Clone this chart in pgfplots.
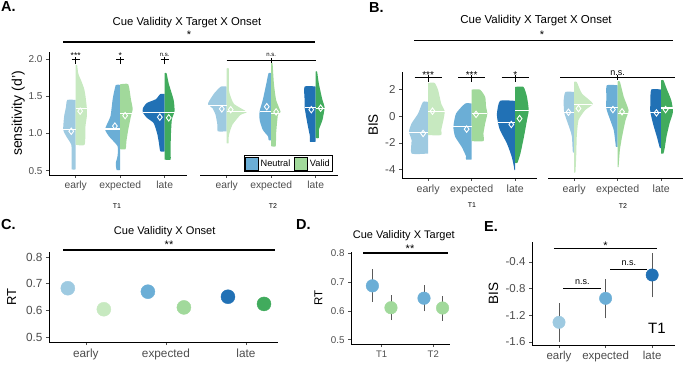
\documentclass[border=0pt]{standalone}
\usepackage{fontspec}
\setmainfont{Liberation Sans}
\usepackage{pgfplots}
\pgfplotsset{compat=1.18}
\newcommand{\myfs}[1]{\fontsize{#1}{#1}\selectfont}
\definecolor{c1n}{HTML}{9ECAE1}
\definecolor{c1v}{HTML}{C7E9C0}
\definecolor{c2n}{HTML}{6BAED6}
\definecolor{c2v}{HTML}{A1D99B}
\definecolor{c3n}{HTML}{2171B5}
\definecolor{c3v}{HTML}{41AB5D}
\definecolor{tg}{HTML}{4D4D4D}
\definecolor{eb}{HTML}{595959}
\pgfplotsset{
  gg/.style={scale only axis, clip=false, anchor=south west,
    axis x line*=bottom, axis y line*=left,
    axis line style={-, line width=0.75pt, black},
    tick align=outside, major tick length=3pt,
    every tick/.style={tg, line width=0.6pt},
    tick label style={text=tg}},
}
% half violin: colour, "cat-" or "cat+", rows "v w\\"
\newcommand{\hv}[3]{\addplot[fill=#1, draw=none, smooth, tension=0.35] table[x expr={#2\thisrow{w}}, y=v, row sep=\\]{v w\\#3} -- cycle;}
\newcommand{\md}[3]{\addplot[white, line width=1.1pt] coordinates {(#1,#3)(#2,#3)};}
\newcommand{\dm}[1]{\addplot[only marks, mark=diamond, mark size=3.2pt, white, mark options={line width=0.9pt}] coordinates {#1};}
\newcommand{\seg}[4]{\addplot[black, line width=0.6pt] coordinates {(#1,#2)(#3,#4)};}
\begin{document}
\begin{tikzpicture}
\useasboundingbox (0pt,0pt) rectangle (685pt,-366pt);
% ---------------- A, T1
\begin{axis}[gg, at={(49pt,-175pt)}, width=138pt, height=123pt,
  xmin=0.4, xmax=3.5, ymin=0.443, ymax=2.094,
  xtick={1,2,3}, xticklabels={early,expected,late},
  ytick={0.5,1,1.5,2}, yticklabels={0.5,1.0,1.5,2.0},
  x tick label style={font=\myfs{10.3}}, y tick label style={font=\myfs{10}},
  ylabel={sensitivity (d')}, ylabel style={font=\myfs{14}, at={(axis description cs:-0.222,0.5)}, anchor=center}]
\hv{c1n}{1-}{1.45 0\\1.45 0.19\\1.35 0.22\\1.23 0.26\\1.05 0.28\\0.95 0.2\\0.85 0.1\\0.7 0.09\\0.52 0.09\\0.52 0\\}
\hv{c1v}{1+}{1.92 0\\1.92 0.03\\1.8 0.06\\1.7 0.13\\1.6 0.19\\1.5 0.22\\1.34 0.25\\1.23 0.25\\1.1 0.22\\0.85 0.2\\0.85 0\\}
\hv{c2n}{2-}{1.65 0\\1.65 0.1\\1.46 0.17\\1.23 0.22\\1.06 0.34\\0.96 0.25\\0.83 0.06\\0.7 0.06\\0.6 0.1\\0.51 0.08\\0.51 0\\}
\hv{c2v}{2+}{1.66 0\\1.66 0.18\\1.46 0.24\\1.33 0.28\\1.23 0.24\\1.05 0.18\\0.9 0.14\\0.79 0.12\\0.79 0\\}
\hv{c3n}{3-}{1.53 0\\1.53 0.1\\1.46 0.2\\1.41 0.4\\1.34 0.49\\1.28 0.49\\1.21 0.4\\1.14 0.25\\1.0 0.17\\0.87 0.13\\0.76 0.1\\0.76 0\\}
\hv{c3v}{3+}{1.81 0\\1.81 0.04\\1.67 0.09\\1.45 0.2\\1.30 0.22\\1.19 0.16\\1.0 0.14\\0.78 0.13\\0.65 0.13\\0.65 0\\}
\md{0.72}{1}{1.05}\md{1}{1.25}{1.34}
\md{1.66}{2}{1.06}\md{2}{2.26}{1.27}
\md{2.51}{3}{1.28}\md{3}{3.22}{1.28}
\dm{(0.9,1.03)(1.1,1.30)(1.88,1.10)(2.11,1.24)(2.89,1.22)(3.09,1.21)}
\seg{0.906}{1.99}{1.094}{1.99}\seg{1}{1.93}{1}{2.03}
\seg{1.906}{1.99}{2.094}{1.99}\seg{2}{1.93}{2}{2.03}
\seg{2.906}{1.99}{3.094}{1.99}\seg{3}{1.93}{3}{2.03}
\node[font=\myfs{8.5}] at (axis cs:1,2.045) {***};
\node[font=\myfs{8.5}] at (axis cs:2,2.045) {*};
\node[font=\myfs{6}] at (axis cs:3,2.054) {n.s.};
\end{axis}
% ---------------- A, T2
\begin{axis}[gg, at={(200pt,-175pt)}, width=138pt, height=123pt,
  xmin=0.4, xmax=3.5, ymin=0.443, ymax=2.094, axis y line=none,
  xtick={1,2,3}, xticklabels={early,expected,late},
  x tick label style={font=\myfs{10.3}},
  legend columns=2,
  legend style={at={(0.964,0.027)}, anchor=south east, draw=black, line width=0.6pt,
    font=\myfs{9.2}, inner sep=1pt, /tikz/every even column/.append style={column sep=2pt}},
  legend image code/.code={\fill[#1] (0pt,-6.5pt) rectangle (13pt,6.5pt);}]
\addlegendimage{fill=c2n}\addlegendentry{Neutral}
\addlegendimage{fill=c2v}\addlegendentry{Valid}
\hv{c1n}{1-}{1.63 0\\1.63 0.13\\1.54 0.28\\1.43 0.4\\1.39 0.42\\1.34 0.32\\1.25 0.25\\1.12 0.21\\1.03 0.2\\1.03 0\\}
\hv{c1v}{1+}{1.87 0\\1.87 0.05\\1.58 0.05\\1.4 0.16\\1.29 0.45\\1.25 0.31\\1.12 0.13\\0.98 0.05\\0.87 0.04\\0.87 0\\}
\hv{c2n}{2-}{1.81 0\\1.81 0.06\\1.67 0.11\\1.45 0.19\\1.30 0.26\\1.18 0.26\\1.05 0.19\\0.96 0.07\\0.91 0.06\\0.91 0\\}
\hv{c2v}{2+}{1.94 0\\1.94 0.03\\1.67 0.06\\1.45 0.11\\1.29 0.21\\1.25 0.15\\1.0 0.11\\0.83 0.1\\0.83 0\\}
\hv{c3n}{3-}{1.63 0\\1.63 0.25\\1.45 0.25\\1.35 0.25\\1.14 0.19\\0.96 0.13\\0.89 0.13\\0.89 0\\}
\hv{c3v}{3+}{1.83 0\\1.83 0.03\\1.67 0.07\\1.45 0.15\\1.35 0.2\\1.18 0.15\\1.05 0.07\\0.94 0.07\\0.94 0\\}
\md{0.58}{1}{1.38}\md{1}{1.45}{1.29}
\md{1.74}{2}{1.30}\md{2}{2.21}{1.27}
\md{2.75}{3}{1.35}\md{3}{3.2}{1.33}
\dm{(0.89,1.33)(1.09,1.32)(1.9,1.36)(2.11,1.29)(2.9,1.32)(3.11,1.34)}
\seg{1}{1.987}{3}{1.987}\seg{2}{1.95}{2}{2.01}
\node[font=\myfs{6}] at (axis cs:2,2.054) {n.s.};
\end{axis}
% ---------------- B, T1
\begin{axis}[gg, at={(402pt,-178pt)}, width=135pt, height=106pt,
  xmin=0.4, xmax=3.5, ymin=-4.64, ymax=3.32,
  xtick={1,2,3}, xticklabels={early,expected,late},
  ytick={-4,-2,0,2}, yticklabels={-4,-2,0,2},
  x tick label style={font=\myfs{10.6}}, y tick label style={font=\myfs{11.5}},
  ylabel={BIS}, ylabel style={font=\myfs{13.5}, at={(axis description cs:-0.213,0.5)}, anchor=center}]
\hv{c1n}{1-}{1.07 0\\1.07 0.12\\0.2 0.23\\-0.54 0.38\\-1.17 0.44\\-1.8 0.38\\-2.8 0.38\\-2.8 0\\}
\hv{c1v}{1+}{2.5 0\\2.5 0.15\\1.95 0.23\\0.95 0.3\\0.37 0.38\\-0.3 0.35\\-1.05 0.3\\-1.42 0.3\\-1.42 0\\}
\hv{c2n}{2-}{0.95 0\\0.95 0.15\\0.2 0.36\\-0.8 0.42\\-1.54 0.38\\-2.3 0.23\\-3.0 0.13\\-3.25 0.13\\-3.25 0\\}
\hv{c2v}{2+}{2.0 0\\2.0 0.19\\1.45 0.31\\0.7 0.33\\0.2 0.36\\-0.55 0.31\\-1.3 0.27\\-1.87 0.27\\-1.87 0\\}
\hv{c3n}{3-}{1.15 0\\1.15 0.35\\0.2 0.42\\-0.42 0.4\\-1.05 0.35\\-2.05 0.19\\-3.05 0.08\\-3.8 0.03\\-4.04 0.02\\-4.04 0\\}
\hv{c3v}{3+}{2.2 0\\2.2 0.19\\1.45 0.27\\0.45 0.31\\-0.3 0.27\\-1.55 0.2\\-2.8 0.12\\-3.5 0.05\\-3.5 0\\}
\md{0.56}{1}{-1.2}\md{1}{1.38}{0.33}
\md{1.58}{2}{-0.78}\md{2}{2.36}{0.18}
\md{2.6}{3}{-0.45}\md{3}{3.31}{0.4}
\dm{(0.885,-1.3)(1.1,0.38)(1.885,-0.97)(2.1,0.14)(2.91,-0.62)(3.1,-0.18)}
\seg{0.69}{2.9}{1.31}{2.9}\seg{1}{2.57}{1}{3.07}
\seg{1.69}{2.9}{2.31}{2.9}\seg{2}{2.57}{2}{3.07}
\seg{2.69}{2.9}{3.31}{2.9}\seg{3}{2.57}{3}{3.07}
\node[font=\myfs{10}] at (axis cs:1,3.1) {***};
\node[font=\myfs{10}] at (axis cs:2,3.1) {***};
\node[font=\myfs{10}] at (axis cs:3,3.1) {*};
\end{axis}
% ---------------- B, T2
\begin{axis}[gg, at={(548pt,-178pt)}, width=135pt, height=106pt,
  xmin=0.4, xmax=3.5, ymin=-4.64, ymax=3.32, axis y line=none,
  xtick={1,2,3}, xticklabels={early,expected,late},
  x tick label style={font=\myfs{10.6}}]
\hv{c1n}{1-}{1.82 0\\1.82 0.2\\1.2 0.24\\0.33 0.23\\-0.3 0.17\\-1.05 0.09\\-1.55 0.05\\-2.7 0.03\\-2.7 0\\}
\hv{c1v}{1+}{2.57 0\\2.57 0.06\\1.7 0.18\\0.95 0.43\\0.45 0.25\\-0.3 0.1\\-1.55 0.06\\-2.8 0.05\\-4.2 0.03\\-4.2 0\\}
\hv{c2n}{2-}{2.32 0\\2.32 0.25\\1.45 0.26\\0.58 0.26\\-0.3 0.17\\-1.05 0.09\\-2.05 0.05\\-2.3 0.04\\-2.3 0\\}
\hv{c2v}{2+}{2.6 0\\2.6 0.05\\1.45 0.14\\0.45 0.25\\-0.3 0.18\\-1.55 0.1\\-2.55 0.05\\-3.8 0.02\\-3.8 0\\}
\hv{c3n}{3-}{2.0 0\\2.0 0.23\\0.95 0.25\\0.33 0.25\\-0.55 0.19\\-1.55 0.1\\-2.3 0.04\\-2.4 0.03\\-2.4 0\\}
\hv{c3v}{3+}{2.7 0\\2.7 0.05\\2.1 0.12\\1.2 0.23\\0.33 0.27\\-0.55 0.19\\-1.55 0.12\\-2.4 0.08\\-2.8 0.05\\-2.8 0\\}
\md{0.77}{1}{0.3}\md{1}{1.4}{0.85}
\md{1.74}{2}{0.65}\md{2}{2.25}{0.2}
\md{2.75}{3}{0.25}\md{3}{3.27}{0.62}
\dm{(0.87,0.3)(1.1,0.58)(1.89,0.5)(2.1,0.33)(2.89,0.25)(3.1,0.5)}
\seg{0.68}{2.94}{3.31}{2.94}\seg{2}{2.74}{2}{3.07}
\node[font=\myfs{9}] at (axis cs:2,3.24) {n.s.};
\end{axis}
% ---------------- C
\begin{axis}[gg, at={(49pt,-342pt)}, width=229pt, height=90pt,
  xmin=0.54, xmax=3.4, ymin=0.481, ymax=0.819,
  xtick={1,2,3}, xticklabels={early,expected,late},
  ytick={0.5,0.6,0.7,0.8}, yticklabels={0.5,0.6,0.7,0.8},
  x tick label style={font=\myfs{11.8}}, y tick label style={font=\myfs{11.8}},
  ylabel={RT}, ylabel style={font=\myfs{13}, at={(axis description cs:-0.163,0.5)}, anchor=center}]
\addplot[only marks, mark=*, mark size=7pt, c1n] coordinates {(0.775,0.683)};
\addplot[only marks, mark=*, mark size=7pt, c1v] coordinates {(1.225,0.604)};
\addplot[only marks, mark=*, mark size=7pt, c2n] coordinates {(1.775,0.670)};
\addplot[only marks, mark=*, mark size=7pt, c2v] coordinates {(2.225,0.611)};
\addplot[only marks, mark=*, mark size=7pt, c3n] coordinates {(2.775,0.651)};
\addplot[only marks, mark=*, mark size=7pt, c3v] coordinates {(3.225,0.624)};
\end{axis}
% ---------------- D
\begin{axis}[gg, at={(351pt,-344pt)}, width=99pt, height=92pt,
  xmin=0.405, xmax=2.324, ymin=0.485, ymax=0.8045,
  xtick={1,2}, xticklabels={T1,T2},
  ytick={0.5,0.6,0.7,0.8}, yticklabels={0.5,0.6,0.7,0.8},
  x tick label style={font=\myfs{9.5}}, y tick label style={font=\myfs{9.8}},
  ylabel={RT}, ylabel style={font=\myfs{11.5}, at={(axis description cs:-0.33,0.5)}, anchor=center}]
\addplot[eb, line width=0.8pt] coordinates {(0.82,0.632)(0.82,0.747)};
\addplot[eb, line width=0.8pt] coordinates {(1.18,0.568)(1.18,0.656)};
\addplot[eb, line width=0.8pt] coordinates {(1.82,0.598)(1.82,0.690)};
\addplot[eb, line width=0.8pt] coordinates {(2.18,0.566)(2.18,0.652)};
\addplot[only marks, mark=*, mark size=6.3pt, c2n] coordinates {(0.82,0.687)(1.82,0.644)};
\addplot[only marks, mark=*, mark size=6.3pt, c2v] coordinates {(1.18,0.611)(2.18,0.610)};
\end{axis}
% ---------------- E
\begin{axis}[gg, at={(532pt,-345pt)}, width=143pt, height=103pt,
  xmin=0.42, xmax=3.49, ymin=-1.645, ymax=-0.1,
  xtick={1,2,3}, xticklabels={early,expected,late},
  ytick={-1.6,-1.2,-0.8,-0.4}, yticklabels={-1.6,-1.2,-0.8,-0.4},
  x tick label style={font=\myfs{11.5}}, y tick label style={font=\myfs{11.5}},
  ylabel={BIS}, ylabel style={font=\myfs{13.5}, at={(axis description cs:-0.27,0.5)}, anchor=center}]
\addplot[eb, line width=0.8pt] coordinates {(1,-1.595)(1,-1.02)};
\addplot[eb, line width=0.8pt] coordinates {(2,-1.245)(2,-0.655)};
\addplot[eb, line width=0.8pt] coordinates {(3,-0.93)(3,-0.27)};
\addplot[only marks, mark=*, mark size=6.2pt, c1n] coordinates {(1,-1.305)};
\addplot[only marks, mark=*, mark size=6.2pt, c2n] coordinates {(2,-0.945)};
\addplot[only marks, mark=*, mark size=6.2pt, c3n] coordinates {(3,-0.595)};
\addplot[black, line width=0.8pt] coordinates {(0.89,-0.2)(3.11,-0.2)};
\addplot[black, line width=0.8pt] coordinates {(1.09,-0.8)(1.9,-0.8)};
\addplot[black, line width=0.8pt] coordinates {(2.1,-0.505)(2.89,-0.505)};
\node[font=\myfs{11}] at (axis cs:2,-0.155) {*};
\node[font=\myfs{9}] at (axis cs:1.5,-0.695) {n.s.};
\node[font=\myfs{9}] at (axis cs:2.5,-0.41) {n.s.};
\node[font=\myfs{15}] at (axis cs:3.1,-1.395) {T1};
\end{axis}
% ---------------- titles, significance bars, labels
\node[font=\myfs{11.3}] at (187pt,-23pt) {Cue Validity X Target X Onset};
\node[font=\myfs{11}] at (189pt,-34.4pt) {*};
\draw[line width=1.8pt] (63pt,-42pt) -- (315pt,-42pt);
\node[font=\myfs{11.5}] at (536pt,-21pt) {Cue Validity X Target X Onset};
\node[font=\myfs{11}] at (542pt,-34.4pt) {*};
\draw[line width=1.8pt] (414pt,-40.5pt) -- (673pt,-40.5pt);
\node[font=\myfs{11.1}] at (164.7pt,-232pt) {Cue Validity X Onset};
\node[font=\myfs{11}] at (169pt,-245pt) {**};
\draw[line width=1.8pt] (63pt,-250pt) -- (275pt,-250pt);
\node[font=\myfs{11}] at (403.8pt,-236pt) {Cue Validity X Target};
\node[font=\myfs{11}] at (410pt,-248.5pt) {**};
\draw[line width=1.8pt] (363pt,-253pt) -- (448pt,-253pt);
\node[font=\myfs{7}] at (117pt,-206pt) {T1};
\node[font=\myfs{7}] at (273pt,-206pt) {T2};
\node[font=\myfs{7}] at (472pt,-205pt) {T1};
\node[font=\myfs{7}] at (623pt,-206pt) {T2};
\node[font=\bfseries\myfs{14.5}, anchor=west, inner sep=0pt] at (1pt,-7pt) {A.};
\node[font=\bfseries\myfs{14.5}, anchor=west, inner sep=0pt] at (369pt,-8pt) {B.};
\node[font=\bfseries\myfs{14.5}, anchor=west, inner sep=0pt] at (1pt,-225pt) {C.};
\node[font=\bfseries\myfs{14.5}, anchor=west, inner sep=0pt] at (296pt,-225pt) {D.};
\node[font=\bfseries\myfs{14.5}, anchor=west, inner sep=0pt] at (484pt,-227pt) {E.};
\end{tikzpicture}
\end{document}
